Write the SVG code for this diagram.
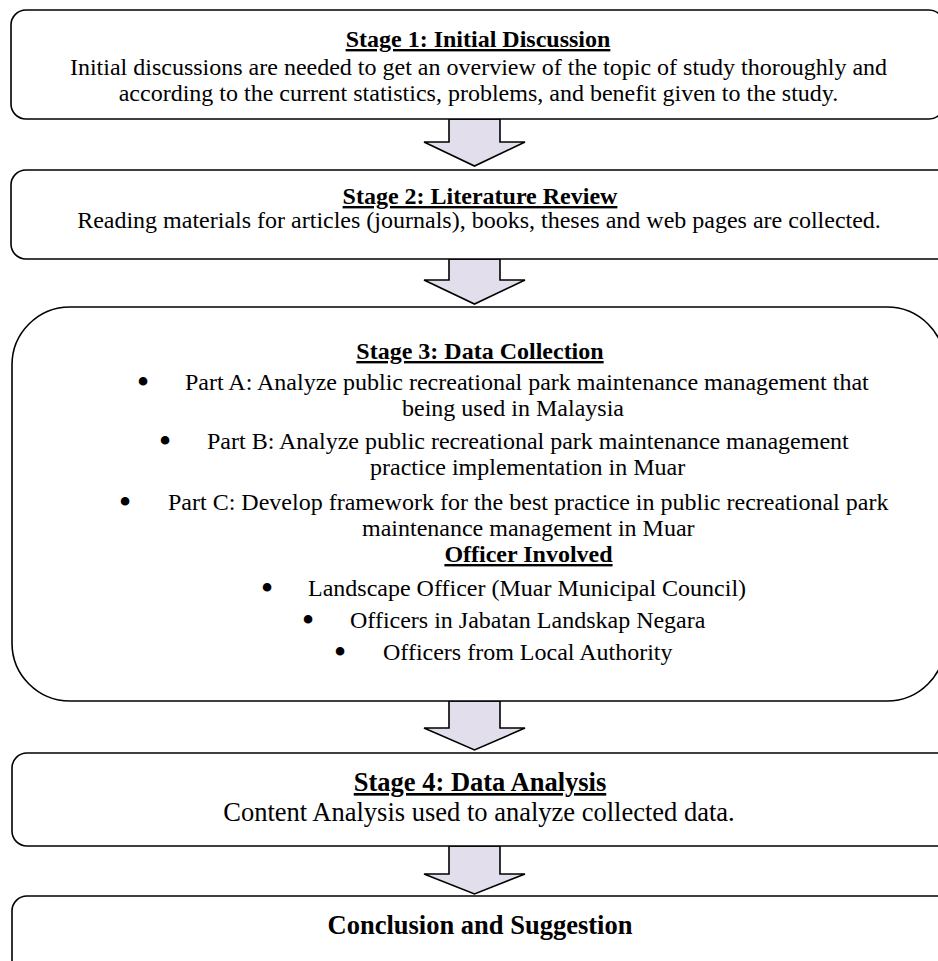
<svg xmlns="http://www.w3.org/2000/svg" width="938" height="961" viewBox="0 0 938 961">
<defs>
<style>
.box{fill:#ffffff;stroke:#000000;stroke-width:1.6}
.arr{fill:#e2deeb;stroke:#000000;stroke-width:1.6;stroke-linejoin:miter}
text{font-family:"Liberation Serif","Times New Roman",serif;fill:#000000}
.t{font-size:24px}
.tc{font-size:24px;text-anchor:middle}
.h{font-size:24px;font-weight:bold;text-anchor:middle;text-decoration:underline}
.h2{font-size:26.5px;font-weight:bold;text-anchor:middle}
.b2{font-size:26.5px;text-anchor:middle}
.bul{font-size:36px;text-anchor:middle}
</style>
</defs>
<rect width="938" height="961" fill="#ffffff"/>
<g id="connectors">
<path class="arr" d="M449,119 L449,142 L424,142 L474.5,166 L525,142 L500,142 L500,119 Z"/>
<path class="arr" d="M449,259 L449,280 L424,280 L474.5,304 L525,280 L500,280 L500,259 Z"/>
<path class="arr" d="M449,701 L449,728 L424,728 L474.5,750 L525,728 L500,728 L500,701 Z"/>
<path class="arr" d="M449,846 L449,874 L424,874 L474.5,894 L525,874 L500,874 L500,846 Z"/>
</g>
<g id="stage1">
<rect class="box" x="11" y="10" width="933" height="109" rx="15" ry="15"/>
<text class="h" x="478" y="47">Stage 1: Initial Discussion</text>
<text class="tc" x="478.5" y="75">Initial discussions are needed to get an overview of the topic of study thoroughly and</text>
<text class="tc" x="478.5" y="101">according to the current statistics, problems, and benefit given to the study.</text>
</g>
<g id="stage2">
<rect class="box" x="11" y="170" width="950" height="89" rx="15" ry="15"/>
<text class="h" x="480" y="204">Stage 2: Literature Review</text>
<text class="tc" x="479" y="228">Reading materials for articles (journals), books, theses and web pages are collected.</text>
</g>
<g id="stage3">
<rect class="box" x="12" y="307" width="933" height="394" rx="58" ry="58"/>
<text class="h" x="480" y="359">Stage 3: Data Collection</text>
<text class="bul" x="143" y="394">•</text>
<text class="t" x="185" y="390">Part A: Analyze public recreational park maintenance management that</text>
<text class="t" x="402" y="416">being used in Malaysia</text>
<text class="bul" x="165" y="453">•</text>
<text class="t" x="207" y="449">Part B: Analyze public recreational park maintenance management</text>
<text class="t" x="370" y="475">practice implementation in Muar</text>
<text class="bul" x="125" y="514">•</text>
<text class="t" x="168" y="510">Part C: Develop framework for the best practice in public recreational park</text>
<text class="t" x="362" y="536">maintenance management in Muar</text>
<text class="h" x="528.5" y="562">Officer Involved</text>
<text class="bul" x="267" y="600">•</text>
<text class="t" x="308" y="596">Landscape Officer (Muar Municipal Council)</text>
<text class="bul" x="308" y="632">•</text>
<text class="t" x="350" y="628">Officers in Jabatan Landskap Negara</text>
<text class="bul" x="340" y="664">•</text>
<text class="t" x="383" y="660">Officers from Local Authority</text>
</g>
<g id="stage4">
<rect class="box" x="12" y="753" width="950" height="93" rx="15" ry="15"/>
<text class="h2" x="480" y="791" text-decoration="underline">Stage 4: Data Analysis</text>
<text class="b2" x="479" y="821">Content Analysis used to analyze collected data.</text>
</g>
<g id="conclusion">
<rect class="box" x="12" y="896" width="950" height="90" rx="15" ry="15"/>
<text class="h2" x="480" y="934">Conclusion and Suggestion</text>
</g>
</svg>
